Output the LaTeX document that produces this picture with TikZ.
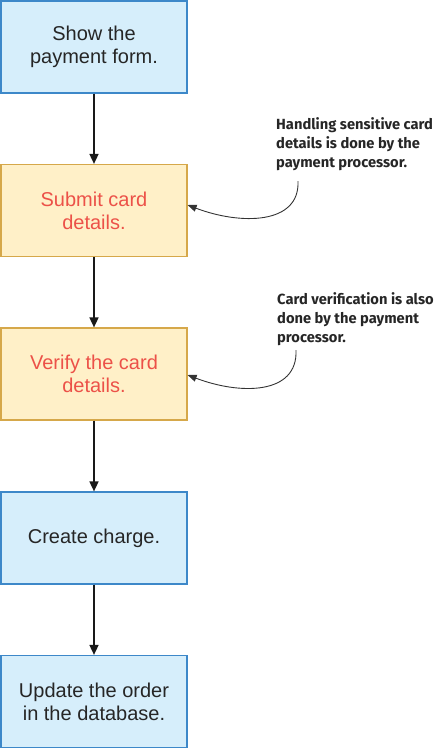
\documentclass[tikz,border=0pt]{standalone}
\usepackage{fontspec}
\setmainfont{Liberation Sans}
\newfontfamily\notefont{Fira Sans}
\usetikzlibrary{arrows.meta}
\definecolor{bluefill}{HTML}{D6EEFB}
\definecolor{blueline}{HTML}{3D88C9}
\definecolor{yelfill}{HTML}{FFF0C8}
\definecolor{yelline}{HTML}{D6A84A}
\definecolor{redtxt}{HTML}{EC5148}
\begin{document}
\begin{tikzpicture}[x=1pt,y=-1pt,
  box/.style={draw, line width=1.2pt, minimum width=186pt, minimum height=92pt, align=center, inner sep=0pt,
    font=\fontsize{20}{23}\selectfont, text=black!85},
  bluebox/.style={box, fill=bluefill, draw=blueline},
  yelbox/.style={box, fill=yelfill, draw=yelline, text=redtxt},
  flow/.style={draw=black!90, line width=1.6pt, -{Triangle[length=10pt,width=9pt]}},
  note/.style={align=left, anchor=north west, inner sep=0pt, font=\notefont\bfseries\fontsize{14.7}{19}\selectfont, text=black!85},
  callout/.style={draw=black!80, line width=0.9pt, -{Triangle[length=9pt,width=7pt]}}]
\useasboundingbox (0,0) rectangle (445,750);
\node[bluebox] (b1) at (94,47) {Show the\\payment form.};
\node[yelbox] (b2) at (94,210.5) {Submit card\\details.};
\node[yelbox] (b3) at (94,374) {Verify the card\\details.};
\node[bluebox] (b4) at (94,538) {Create charge.};
\node[bluebox] (b5) at (94,701.5) {Update the order\\in the database.};
\draw[flow] (b1) -- (b2);
\draw[flow] (b2) -- (b3);
\draw[flow] (b3) -- (b4);
\draw[flow] (b4) -- (b5);
\node[note] (n1) at (276,117) {Handling sensitive card\\details is done by the\\payment processor.};
\node[note] (n2) at (277,292) {Card verification is also\\done by the payment\\processor.};
\coordinate (s1) at (298,181);
\coordinate (s2) at (296,350);
\draw[callout] (s1) .. controls (300,225) and (240,225) .. (b2.east |- 0,205);
\draw[callout] (s2) .. controls (298,395) and (240,395) .. (b3.east |- 0,375);
\end{tikzpicture}
\end{document}
